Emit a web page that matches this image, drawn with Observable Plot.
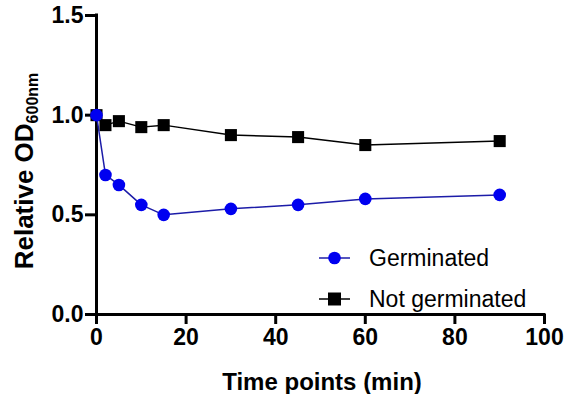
<!DOCTYPE html>
<html>
<head>
<meta charset="utf-8">
<script src="https://cdn.jsdelivr.net/npm/d3@7"></script>
<script src="https://cdn.jsdelivr.net/npm/@observablehq/plot@0.6"></script>
<style>
  html, body { margin: 0; padding: 0; background: #fff; }
  #chart svg { display: block; }
</style>
</head>
<body>
<div id="chart"></div>
<script>
const times = [0, 2, 5, 10, 15, 30, 45, 60, 90];
const germinated = [1.0, 0.70, 0.65, 0.55, 0.50, 0.53, 0.55, 0.58, 0.60];
const notGerminated = [1.0, 0.95, 0.97, 0.94, 0.95, 0.90, 0.89, 0.85, 0.87];
const xTicks = [0, 20, 40, 60, 80, 100];
const yTicks = [0, 0.5, 1.0, 1.5];
const seriesNames = ["Germinated", "Not germinated"];
const xLabel = "Time points (min)";
const yLabelMain = "Relative OD";
const yLabelSub = "600nm";

const gData = times.map((t, i) => ({time: t, value: germinated[i]}));
const ngData = times.map((t, i) => ({time: t, value: notGerminated[i]}));

const blue = "#0000f0";
const blueLine = "#1c1ca8";

const chart = Plot.plot({
  width: 566,
  height: 394,
  marginLeft: 96,
  marginRight: 22,
  marginTop: 15,
  marginBottom: 80,
  style: {fontFamily: "'Liberation Sans', Arial, sans-serif", color: "#000", background: "#fff"},
  x: {domain: [0, 100]},
  y: {domain: [0, 1.5]},
  marks: [
    Plot.axisX({ticks: xTicks, tickSize: 10, strokeWidth: 3, tickPadding: 4, fontSize: 23, fontWeight: "bold", label: null}),
    Plot.axisY({ticks: yTicks, tickSize: 11, strokeWidth: 3, tickPadding: 2, fontSize: 23, fontWeight: "bold", tickFormat: d3.format(".1f"), label: null}),
    Plot.ruleX([0], {strokeWidth: 3, stroke: "#000", strokeLinecap: "square"}),
    Plot.ruleY([0], {strokeWidth: 3, stroke: "#000", strokeLinecap: "square"}),
    Plot.line(ngData, {x: "time", y: "value", stroke: "#000", strokeWidth: 1.5}),
    Plot.dot(ngData, {x: "time", y: "value", symbol: "square", fill: "#000", r: 6.8}),
    Plot.line(gData, {x: "time", y: "value", stroke: blueLine, strokeWidth: 1.5}),
    Plot.dot(gData, {x: "time", y: "value", fill: blue, r: 6.3})
  ]
});

document.getElementById("chart").appendChild(chart);

const svg = d3.select(chart);
const font = "'Liberation Sans', Arial, sans-serif";

// x axis title
svg.append("text")
  .attr("x", 322).attr("y", 390)
  .attr("text-anchor", "middle")
  .attr("font-family", font).attr("font-size", 24).attr("font-weight", "bold")
  .attr("fill", "#000")
  .text(xLabel);

// y axis title with subscript
const yl = svg.append("text")
  .attr("transform", "translate(33,171) rotate(-90)")
  .attr("text-anchor", "middle")
  .attr("font-family", font).attr("font-weight", "bold")
  .attr("fill", "#000");
yl.append("tspan").attr("font-size", 26).text(yLabelMain);
yl.append("tspan").attr("font-size", 16).attr("dy", 5).text(yLabelSub);

// legend
const legend = [
  {name: seriesNames[0], y: 258, symbol: d3.symbolCircle, size: Math.PI * 6.3 * 6.3, fill: blue, line: blueLine},
  {name: seriesNames[1], y: 299, symbol: d3.symbolSquare, size: 13 * 13, fill: "#000", line: "#000"}
];
legend.forEach(d => {
  const g = svg.append("g");
  g.append("line").attr("x1", 319).attr("x2", 350).attr("y1", d.y).attr("y2", d.y)
    .attr("stroke", d.line).attr("stroke-width", 1.5);
  g.append("path").attr("d", d3.symbol(d.symbol, d.size)())
    .attr("transform", `translate(334.5,${d.y})`).attr("fill", d.fill);
  g.append("text").attr("x", 369).attr("y", d.y + 8)
    .attr("text-anchor", "start")
    .attr("font-family", font).attr("font-size", 23).attr("fill", "#000")
    .text(d.name);
});
</script>
</body>
</html>
